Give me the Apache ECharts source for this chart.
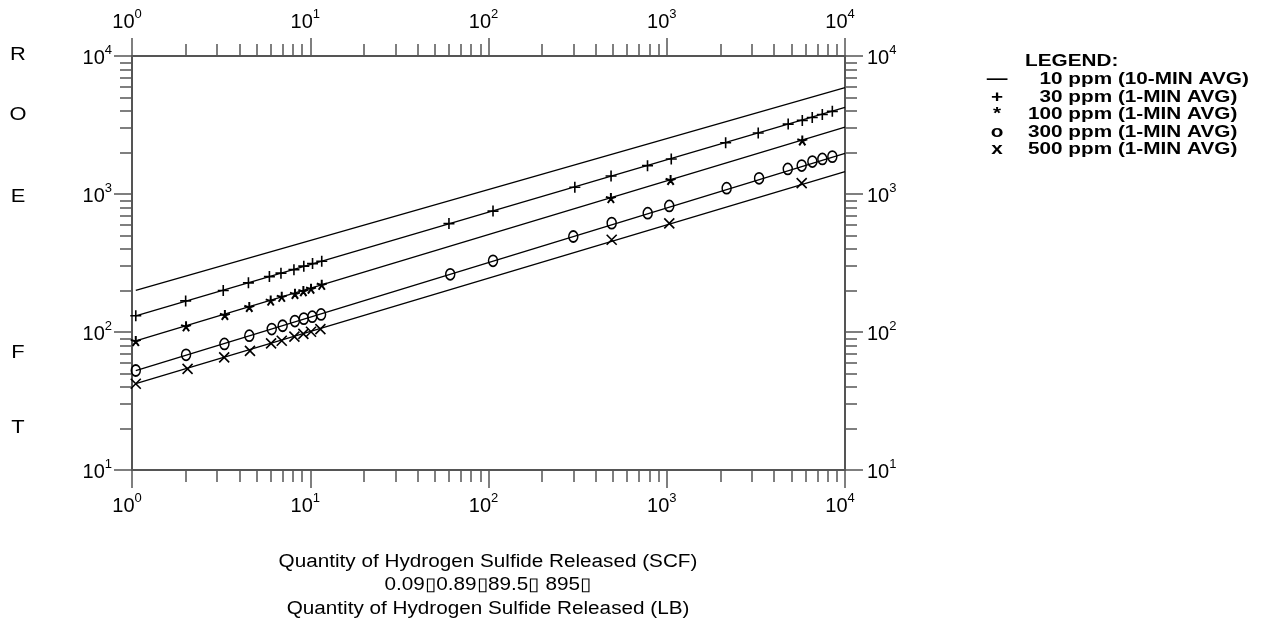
<!DOCTYPE html>
<html>
<head>
<meta charset="utf-8">
<script src="https://cdn.jsdelivr.net/npm/echarts@6/dist/echarts.min.js"></script>
<style>
  html, body { margin: 0; padding: 0; background: #fff; }
  #chart { width: 1265px; height: 624px; }
</style>
</head>
<body>
<div id="chart"></div>
<script>
// axis ticks (decades) for both log axes
const xMajorTicks = [1, 10, 100, 1000, 10000];
const yMajorTicks = [10, 100, 1000, 10000];

// fitted lines, start and end points
const line10ppm = [[1.05, 200], [10000, 5890]];
const line30ppm = [[1.05, 131], [10000, 4250]];
const line100ppm = [[1.05, 86.3], [10000, 3050]];
const line300ppm = [[1.05, 52.6], [10000, 1972]];
const line500ppm = [[1.05, 42.2], [10000, 1452]];

// marker points
const ppm30X = [1.05, 2.0, 3.25, 4.5, 5.9, 6.85, 8.1, 9.2, 10.3, 11.6, 60, 106, 305, 487, 780, 1060, 2140, 3260, 4800, 5760, 6550, 7460, 8490];
const ppm30Y = [131, 168, 200, 227, 252, 267, 283, 300, 313, 326, 610, 752, 1118, 1350, 1605, 1795, 2350, 2770, 3210, 3415, 3580, 3770, 3970];

const ppm100X = [1.05, 2.01, 3.32, 4.55, 6.0, 6.92, 8.21, 9.15, 10.1, 11.6, 486, 1051, 5760];
const ppm100Y = [86, 110, 133, 152, 169, 180, 189, 198, 206, 220, 935, 1265, 2445];

const ppm300X = [1.05, 2.01, 3.3, 4.55, 6.08, 7.0, 8.2, 9.2, 10.26, 11.5, 61, 106, 299, 491, 782, 1033, 2168, 3296, 4775, 5715, 6561, 7464, 8492];
const ppm300Y = [52.6, 68.4, 82, 94, 105, 111, 120, 125, 129, 134, 262, 328, 492, 615, 726, 820, 1102, 1300, 1520, 1607, 1718, 1795, 1866];

const ppm500X = [1.05, 2.05, 3.29, 4.59, 6.03, 6.92, 8.15, 9.15, 10.1, 11.4, 491, 1033, 5715];
const ppm500Y = [42.2, 54, 65.5, 73, 82.8, 86.5, 92.5, 97, 100.5, 105, 466, 612, 1200];

const legendSymbols = ['\u2014', '+', '*', 'o', 'x'];
const legendLabels = ['  10 ppm (10-MIN AVG)', '  30 ppm (1-MIN AVG)', '100 ppm (1-MIN AVG)', '300 ppm (1-MIN AVG)', '500 ppm (1-MIN AVG)'];
const sideLetters = ['R', 'O', 'E', 'F', 'T'];
const bottomLines = [
  'Quantity of Hydrogen Sulfide Released (SCF)',
  '0.09\u25AF0.89\u25AF89.5\u25AF 895\u25AF',
  'Quantity of Hydrogen Sulfide Released (LB)'
];

const FONT = '"Liberation Sans", Arial, Helvetica, sans-serif';
const AXIS_GRAY = '#555';

const minorTicks = (lo, hi) => {
  const out = [];
  for (let d = lo; d < hi; d *= 10) {
    for (let m = 2; m <= 9; m++) out.push(m * d);
  }
  return out;
};

const zip = (xs, ys) => xs.map((x, i) => [x, ys[i]]);

const powLabel = (value) => '{b|10}{s|' + Math.round(Math.log10(value)) + '}';
const labelRich = {
  b: { fontSize: 20, fontFamily: FONT, color: '#000', lineHeight: 24, verticalAlign: 'bottom' },
  s: { fontSize: 13, fontFamily: FONT, color: '#000', lineHeight: 13, verticalAlign: 'top' }
};

function majorAxis(kind, position, margin) {
  const isX = kind === 'x';
  const ticks = isX ? xMajorTicks : yMajorTicks;
  return {
    type: 'log',
    logBase: 10,
    min: ticks[0],
    max: ticks[ticks.length - 1],
    position,
    axisLine: { show: true, onZero: false, lineStyle: { color: AXIS_GRAY, width: 2 } },
    axisTick: { show: true, inside: false, length: 18, customValues: ticks, lineStyle: { color: AXIS_GRAY, width: 1.5 } },
    axisLabel: {
      show: true,
      margin,
      fontSize: 20,
      fontFamily: FONT,
      color: '#000',
      customValues: ticks,
      formatter: powLabel,
      rich: labelRich,
      padding: isX ? [0, 10, 0, 0] : 0
    },
    splitLine: { show: false },
    minorTick: { show: false },
    minorSplitLine: { show: false }
  };
}

function minorAxis(kind, position) {
  const isX = kind === 'x';
  const ticks = isX ? xMajorTicks : yMajorTicks;
  return {
    type: 'log',
    logBase: 10,
    min: ticks[0],
    max: ticks[ticks.length - 1],
    position,
    axisLine: { show: false, onZero: false },
    axisTick: { show: true, inside: false, length: 12, customValues: minorTicks(ticks[0], ticks[ticks.length - 1]), lineStyle: { color: AXIS_GRAY, width: 1.5 } },
    axisLabel: { show: false },
    splitLine: { show: false }
  };
}

const plusPath = 'path://M5,0L5,10M0,5L10,5';
const crossPath = 'path://M0,0L10,10M10,0L0,10';
const starPath = 'path://M5,5L5,0M5,5L9.76,3.45M5,5L7.94,9.05M5,5L2.06,9.05M5,5L0.24,3.45';
const ovalPath = 'path://M4,0A4,5,0,1,1,4,10A4,5,0,1,1,4,0Z';

const lineSeries = (name, data) => ({
  name,
  type: 'line',
  data,
  symbol: 'none',
  showSymbol: false,
  silent: true,
  z: 2,
  lineStyle: { color: '#000', width: 1.3 }
});

const markerSeries = (name, data, symbol, size, width) => ({
  name,
  type: 'scatter',
  data,
  symbol,
  symbolSize: size,
  silent: true,
  z: 3,
  itemStyle: { color: 'none', borderColor: '#000', borderWidth: width, opacity: 1 }
});

const textEl = (text, x, y, font, align, stretch) => ({
  type: 'text',
  x,
  y,
  scaleX: stretch,
  silent: true,
  style: {
    text,
    font,
    fill: '#000',
    textAlign: align,
    align,
    textVerticalAlign: 'middle',
    verticalAlign: 'middle'
  }
});

const sideLetterY = [55, 115, 197, 353, 428];
const legendRowY = [79, 97, 114, 132, 149];
const bottomLineY = [562, 585, 609];

const graphic = [
  ...sideLetters.map((t, i) => textEl(t, 18, sideLetterY[i], '19px ' + FONT, 'center', 1.15)),
  textEl('LEGEND:', 1025, 61, 'bold 17px ' + FONT, 'left', 1.22),
  ...legendSymbols.map((t, i) => textEl(t, 997, legendRowY[i], 'bold 17px ' + FONT, 'center', 1.22)),
  ...legendLabels.map((t, i) => textEl(t, 1028, legendRowY[i], 'bold 17px ' + FONT, 'left', 1.22)),
  ...bottomLines.map((t, i) => textEl(t, 488, bottomLineY[i], '18px ' + FONT, 'center', 1.15))
];

const chart = echarts.init(document.getElementById('chart'), null, { renderer: 'canvas' });
chart.setOption({
  animation: false,
  backgroundColor: '#fff',
  grid: { left: 132, right: 420, top: 56, bottom: 154, containLabel: false, outerBoundsMode: 'none' },
  xAxis: [
    majorAxis('x', 'bottom', 22),
    majorAxis('x', 'top', 24),
    minorAxis('x', 'bottom'),
    minorAxis('x', 'top')
  ],
  yAxis: [
    majorAxis('y', 'left', 20),
    majorAxis('y', 'right', 22),
    minorAxis('y', 'left'),
    minorAxis('y', 'right')
  ],
  series: [
    lineSeries('10 ppm', line10ppm),
    lineSeries('30 ppm', line30ppm),
    lineSeries('100 ppm', line100ppm),
    lineSeries('300 ppm', line300ppm),
    lineSeries('500 ppm', line500ppm),
    markerSeries('30 ppm pts', zip(ppm30X, ppm30Y), plusPath, 11, 1.6),
    markerSeries('100 ppm pts', zip(ppm100X, ppm100Y), starPath, 10, 2),
    markerSeries('300 ppm pts', zip(ppm300X, ppm300Y), ovalPath, [9, 11], 1.6),
    markerSeries('500 ppm pts', zip(ppm500X, ppm500Y), crossPath, 10, 1.6)
  ],
  graphic
});
</script>
</body>
</html>
